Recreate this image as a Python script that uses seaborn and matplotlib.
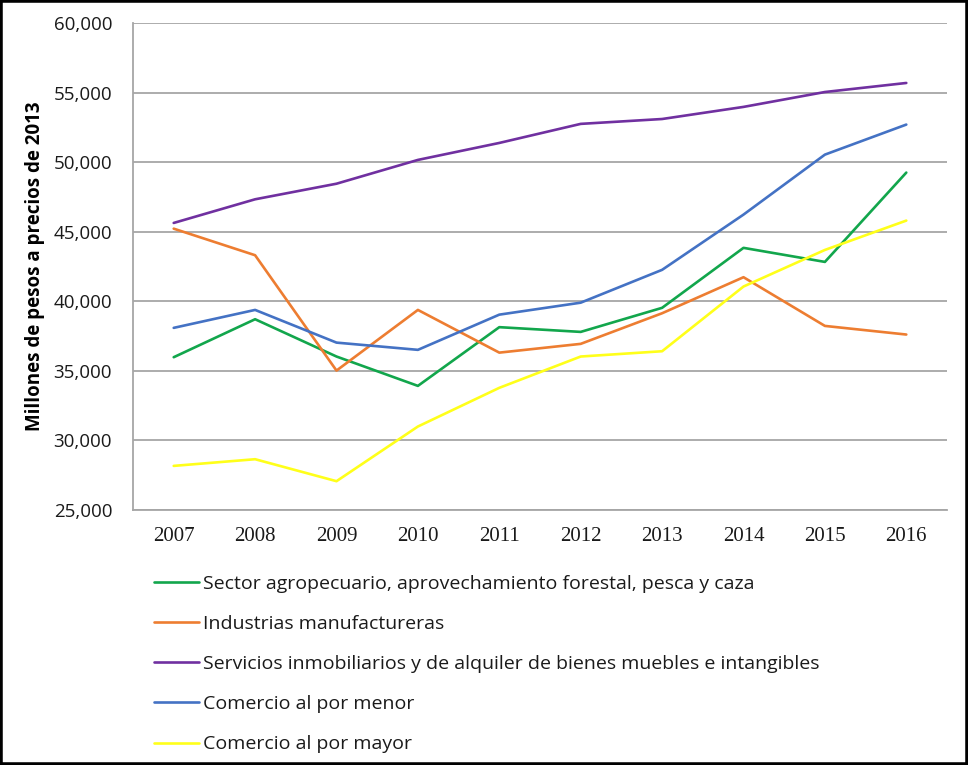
import matplotlib
matplotlib.use("Agg")
import matplotlib.pyplot as plt
import matplotlib.patches as mpatches
from matplotlib.ticker import FuncFormatter
import seaborn as sns
import pandas as pd

years = [2007, 2008, 2009, 2010, 2011, 2012, 2013, 2014, 2015, 2016]

series_names = [
    "Sector agropecuario, aprovechamiento forestal, pesca y caza",
    "Industrias manufactureras",
    "Servicios inmobiliarios y de alquiler de bienes muebles e intangibles",
    "Comercio al por menor",
    "Comercio al por mayor",
]

agro = [35980, 38710, 36030, 33920, 38140, 37800, 39530, 43840, 42830, 49250]
manuf = [45220, 43310, 35020, 39380, 36310, 36940, 39140, 41730, 38230, 37610]
inmob = [45630, 47330, 48450, 50160, 51380, 52750, 53100, 53970, 55040, 55690]
menor = [38090, 39380, 37030, 36510, 39040, 39900, 42260, 46230, 50540, 52700]
mayor = [28170, 28650, 27070, 31000, 33780, 36030, 36410, 41060, 43690, 45800]

colors = ["#12a64c", "#ed7d31", "#7030a0", "#4472c4", "#ffff1a"]

y_ticks = [25000, 30000, 35000, 40000, 45000, 50000, 55000, 60000]
y_label = "Millones de pesos a precios de 2013"

rows = []
for name, vals in zip(series_names, [agro, manuf, inmob, menor, mayor]):
    for yr, v in zip(years, vals):
        rows.append({"Año": yr, "Valor": v, "Serie": name})
df = pd.DataFrame(rows)

sns.set_style("white")
plt.rcParams["font.family"] = ["Open Sans", "DejaVu Sans"]

fig = plt.figure(figsize=(9.68, 7.65), dpi=100)
ax = fig.add_axes([133 / 968, 1 - 510 / 765, (947 - 133) / 968, (510 - 23) / 765])

sns.lineplot(data=df, x="Año", y="Valor", hue="Serie", hue_order=series_names,
             palette=dict(zip(series_names, colors)), linewidth=1.9, ax=ax,
             legend=True)

ax.set_xlim(2006.5, 2016.5)
ax.set_ylim(25000, 60000)
ax.set_yticks(y_ticks)
ax.set_xticks(years)
ax.yaxis.set_major_formatter(FuncFormatter(lambda v, p: f"{int(v):,}"))
ax.grid(axis="y", color="#a6a6a6", linewidth=1.3)
ax.set_axisbelow(True)
for side in ["top", "right"]:
    ax.spines[side].set_visible(False)
for side in ["left", "bottom"]:
    ax.spines[side].set_color("#a6a6a6")
    ax.spines[side].set_linewidth(1.3)
ax.tick_params(axis="both", length=0)
ax.tick_params(axis="y", pad=15, labelsize=13.5, labelcolor="#1a1a1a")
ax.tick_params(axis="x", pad=12)
for lab in ax.get_xticklabels():
    lab.set_fontfamily("Liberation Serif")
    lab.set_fontsize(15)
    lab.set_color("#1a1a1a")
ax.set_xlabel("")
ax.set_ylabel(y_label, fontsize=13.5, fontweight="bold", color="black", labelpad=6)

handles, labels = ax.get_legend_handles_labels()
ax.get_legend().remove()
leg = fig.legend(handles, labels, loc="upper left",
                 bbox_to_anchor=(146 / 968, 1 - 567 / 765),
                 frameon=False, fontsize=14, handlelength=2.3,
                 handletextpad=0.25, labelspacing=1.14, borderaxespad=0)
for t in leg.get_texts():
    t.set_color("#1a1a1a")

fig.add_artist(mpatches.Rectangle((0, 0), 1, 1, transform=fig.transFigure,
                                  fill=False, edgecolor="black", linewidth=4))

fig.savefig("out.png", dpi=100)
